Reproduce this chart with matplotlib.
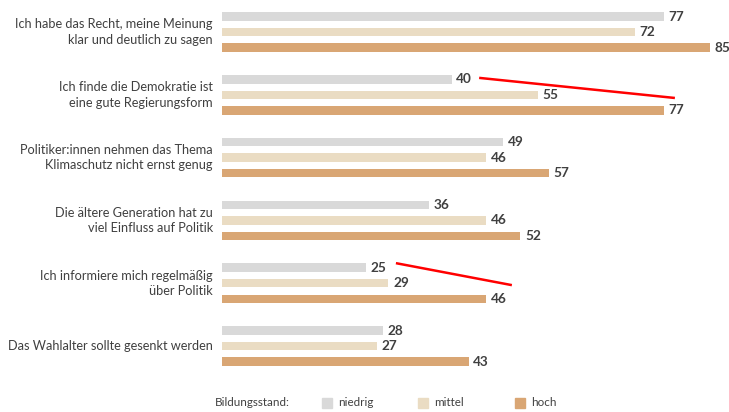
import matplotlib.pyplot as plt
from matplotlib.patches import Rectangle

plt.rcParams['font.family'] = ['Lato', 'DejaVu Sans']

statements = [
    "Ich habe das Recht, meine Meinung\nklar und deutlich zu sagen",
    "Ich finde die Demokratie ist\neine gute Regierungsform",
    "Politiker:innen nehmen das Thema\nKlimaschutz nicht ernst genug",
    "Die ältere Generation hat zu\nviel Einfluss auf Politik",
    "Ich informiere mich regelmäßig\nüber Politik",
    "Das Wahlalter sollte gesenkt werden",
]
niedrig = [77, 40, 49, 36, 25, 28]
mittel = [72, 55, 46, 46, 29, 27]
hoch = [85, 77, 57, 52, 46, 43]

levels = ["niedrig", "mittel", "hoch"]
colors = ["#d9d9d9", "#eadcc3", "#d9a674"]
text_color = "#404040"

fig = plt.figure(figsize=(7.29, 4.12), dpi=100)
ax = fig.add_axes([222 / 729, 0, 507 / 729, 1])
ax.set_xlim(0, 507 / 5.74)
ax.set_ylim(6.05, -0.51)
ax.axis("off")

offset = 0.247
height = 0.135
for i, series in enumerate([niedrig, mittel, hoch]):
    ys = [g + (i - 1) * offset for g in range(len(statements))]
    ax.barh(ys, series, height=height, color=colors[i])
    for y, v in zip(ys, series):
        ax.text(v + 0.8, y, str(v), va="center", ha="left", fontsize=9.8,
                fontweight="bold", color=text_color)

for g, label in enumerate(statements):
    ax.text(-1.6, g, label, ha="right", va="center", fontsize=9.2,
            color=text_color, linespacing=1.35, clip_on=False)

# red trend marks
ax.plot([44.8, 78.9], [1 - 0.27, 1 + 0.05], color="red", lw=1.8,
        solid_capstyle="butt")
ax.plot([30.3, 50.5], [4 - 0.32, 4 + 0.03], color="red", lw=1.8,
        solid_capstyle="butt")

# legend
fig.text(215 / 729, 1 - 403 / 412, "Bildungsstand:", fontsize=8.4,
         color=text_color, va="center", ha="left")
for x, lab, c in zip([322, 418, 515], levels, colors):
    fig.patches.append(Rectangle((x / 729, 1 - 408 / 412), 10 / 729, 10 / 412,
                                 transform=fig.transFigure, color=c))
    fig.text((x + 16) / 729, 1 - 403 / 412, lab, fontsize=8.4,
             color=text_color, va="center", ha="left")

fig.savefig("out.png", dpi=100)
